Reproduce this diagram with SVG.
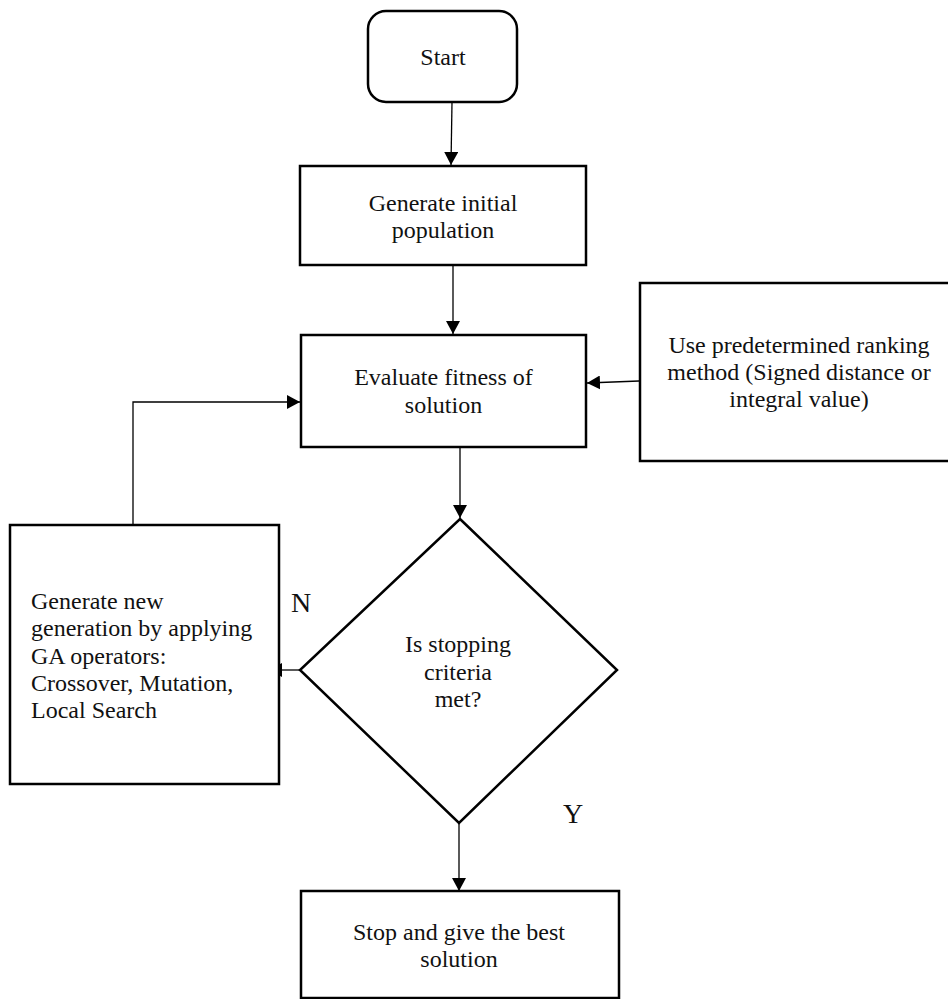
<svg xmlns="http://www.w3.org/2000/svg" width="948" height="999" viewBox="0 0 948 999">
<defs>
<marker id="arr" markerUnits="userSpaceOnUse" markerWidth="14" markerHeight="14" refX="13" refY="7" orient="auto">
<path d="M0,0 L13,7 L0,14 z" fill="#000"/>
</marker>
<style>
.box{fill:#fff;stroke:#000;stroke-width:2.5}
.t{font-family:"Liberation Serif","Times New Roman",serif;font-size:24px;fill:#111}
.c{text-anchor:middle}
.lbl{font-family:"Liberation Serif","Times New Roman",serif;font-size:28px;fill:#111}
.con{fill:none;stroke:#000;stroke-width:1.3}
</style>
</defs>
<rect width="948" height="999" fill="#fff"/>
<g id="connectors">
<line class="con" x1="452" y1="102" x2="451" y2="165" marker-end="url(#arr)"/>
<line class="con" x1="453" y1="265" x2="453" y2="334" marker-end="url(#arr)"/>
<line class="con" x1="639" y1="381" x2="587" y2="383" marker-end="url(#arr)"/>
<line class="con" x1="460" y1="447" x2="460" y2="518" marker-end="url(#arr)"/>
<line class="con" x1="459" y1="823" x2="459" y2="891" marker-end="url(#arr)"/>
<line class="con" x1="300" y1="670" x2="269" y2="670" marker-end="url(#arr)"/>
<polyline class="con" stroke="#333" points="133,525 133,402 300,402" marker-end="url(#arr)"/>
</g>
<g id="start">
<rect class="box" x="368" y="11" width="149" height="91" rx="18"/>
<text class="t c" x="443" y="65">Start</text>
</g>
<g id="generate-initial">
<rect class="box" x="300" y="166" width="286" height="99"/>
<text class="t c" x="443" y="211">Generate initial</text>
<text class="t c" x="443" y="238">population</text>
</g>
<g id="evaluate">
<rect class="box" x="301" y="335" width="285" height="112"/>
<text class="t c" x="443.5" y="385">Evaluate fitness of</text>
<text class="t c" x="443.5" y="412.5">solution</text>
</g>
<g id="ranking">
<rect class="box" x="640" y="283" width="318" height="178"/>
<text class="t c" x="799" y="353">Use predetermined ranking</text>
<text class="t c" x="799" y="380">method (Signed distance or</text>
<text class="t c" x="799" y="407">integral value)</text>
</g>
<g id="decision">
<polygon class="box" points="460,519 617,670 459,823 300,670"/>
<text class="t c" x="458" y="652">Is stopping</text>
<text class="t c" x="458" y="680">criteria</text>
<text class="t c" x="458" y="707">met?</text>
</g>
<g id="new-generation">
<rect class="box" x="10" y="525" width="269" height="259"/>
<text class="t" x="31" y="609">Generate new</text>
<text class="t" x="31" y="636.3">generation by applying</text>
<text class="t" x="31" y="663.6">GA operators:</text>
<text class="t" x="31" y="690.9">Crossover, Mutation,</text>
<text class="t" x="31" y="718.2">Local Search</text>
</g>
<g id="stop">
<rect class="box" x="301" y="891" width="318" height="107"/>
<text class="t c" x="459" y="940">Stop and give the best</text>
<text class="t c" x="459" y="967">solution</text>
</g>
<g id="labels">
<text class="lbl" x="291" y="611.5">N</text>
<text class="lbl" x="563" y="822.5">Y</text>
</g>
</svg>
